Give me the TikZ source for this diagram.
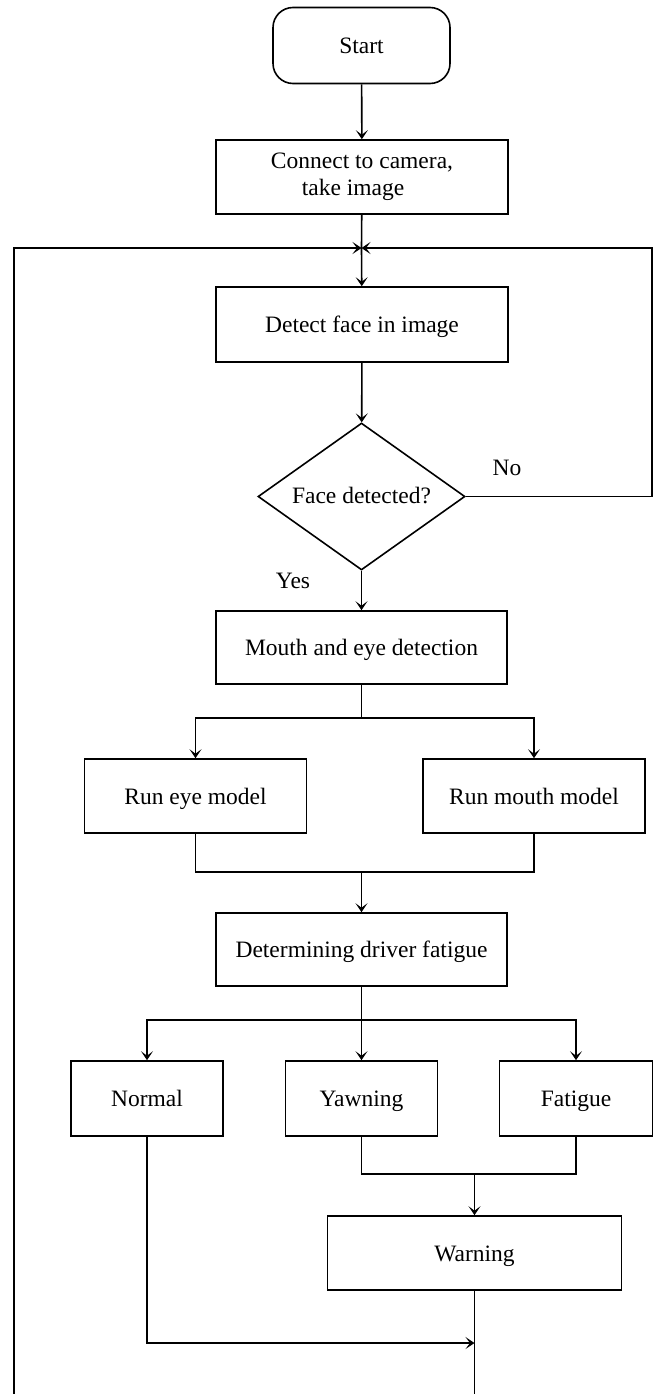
\documentclass[tikz,border=0pt]{standalone}
\usepackage{fontspec}
\setmainfont{Liberation Serif}
\usetikzlibrary{shapes.geometric,arrows.meta}
\tikzset{
  base/.style={draw, line width=1.6pt, font=\fontsize{23.5}{27}\selectfont, inner sep=0pt},
  boxnode/.style={base, rectangle, text height=20pt, text depth=4pt},
  twoline/.style={base, rectangle},
  startnode/.style={base, rectangle, rounded corners=20pt, text height=20pt, text depth=4pt},
  decnode/.style={base, diamond, aspect=1.41, text height=18pt, text depth=4pt},
  lbl/.style={font=\fontsize{23.5}{27}\selectfont, inner sep=0pt},
  line/.style={line width=1.6pt},
  arrow/.style={line width=1.6pt, -{Stealth[length=9pt,width=12pt,inset=4.5pt]}},
}
\begin{document}
\begin{tikzpicture}[x=1pt,y=-1pt]
\useasboundingbox (0,0) rectangle (660,1394);
% nodes
\node[startnode, minimum width=177pt, minimum height=76pt] (start) at (361.5,45.5) {Start};
\node[twoline, minimum width=292pt, minimum height=74pt] (connect) at (362,177) {\begin{tabular}{@{}c@{}}Connect to camera,\\take image\hspace*{18pt}\end{tabular}};
\node[boxnode, minimum width=292pt, minimum height=75pt] (detect) at (362,324.5) {Detect face in image};
\node[decnode, minimum width=207pt, minimum height=147pt] (dec) at (361.5,496.5) {Face detected?};
\node[lbl] (no) at (507,468) {No};
\node[lbl] (yes) at (293,581) {Yes};
\node[boxnode, minimum width=291pt, minimum height=73pt] (mouth) at (361.5,647.5) {Mouth and eye detection};
\node[boxnode, minimum width=222pt, minimum height=74pt] (eye) at (195.5,796) {Run eye model};
\node[boxnode, minimum width=222pt, minimum height=74pt] (mmodel) at (534,796) {Run mouth model};
\node[boxnode, minimum width=291pt, minimum height=73pt] (determ) at (361.5,949.5) {Determining driver fatigue};
\node[boxnode, minimum width=152pt, minimum height=75pt] (normal) at (147,1098.5) {Normal};
\node[boxnode, minimum width=152pt, minimum height=75pt] (yawn) at (361.5,1098.5) {Yawning};
\node[boxnode, minimum width=153pt, minimum height=75pt] (fatigue) at (576,1098.5) {Fatigue};
\node[boxnode, minimum width=294pt, minimum height=74pt] (warning) at (474.5,1253) {Warning};
% coordinates
\coordinate (J) at (361.5,248);
\coordinate (R) at (652,248);
\coordinate (Lb) at (14,1394);
\coordinate (B1) at (361.5,718);
\coordinate (M1) at (361.5,872);
\coordinate (B2) at (361.5,1020);
\coordinate (M2) at (474.5,1174);
\coordinate (N2) at (474.5,1343);
\coordinate (Wb) at (474.5,1394);
% connectors
\draw[arrow] (start) -- (connect);
\draw[line] (connect) -- (J);
\draw[arrow] (J) -- (detect);
\draw[arrow] (Lb) |- (J);
\draw[arrow] (dec.east) -| (R) -- (J);
\draw[arrow] (detect) -- (dec);
\draw[arrow] (dec) -- (mouth);
\draw[line] (mouth) -- (B1);
\draw[arrow] (B1) -| (eye.north);
\draw[arrow] (B1) -| (mmodel.north);
\draw[line] (eye.south) |- (M1);
\draw[line] (mmodel.south) |- (M1);
\draw[arrow] (M1) -- (determ);
\draw[line] (determ) -- (B2);
\draw[arrow] (B2) -| (normal.north);
\draw[arrow] (B2) -- (yawn.north);
\draw[arrow] (B2) -| (fatigue.north);
\draw[line] (yawn.south) |- (M2);
\draw[line] (fatigue.south) |- (M2);
\draw[arrow] (M2) -- (warning);
\draw[arrow] (normal.south) |- (N2);
\draw[line] (warning) -- (Wb);
\end{tikzpicture}
\end{document}
